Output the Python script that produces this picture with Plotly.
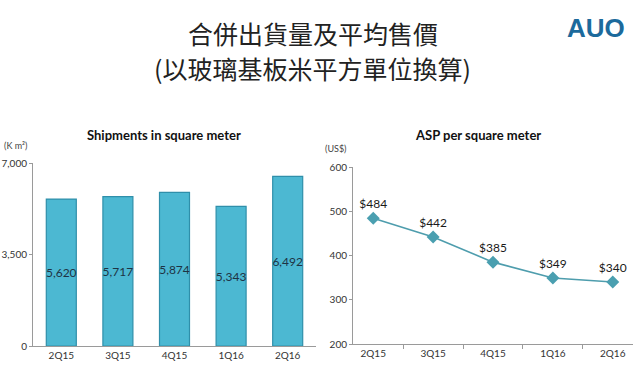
import plotly.graph_objects as go

categories = ["2Q15", "3Q15", "4Q15", "1Q16", "2Q16"]
shipments = [5620, 5717, 5874, 5343, 6492]
asp = [484, 442, 385, 349, 340]
ship_ticks = [0, 3500, 7000]
asp_ticks = [200, 300, 400, 500, 600]

FONT = "Lato, 'Open Sans', sans-serif"
H = 381.0

fig = go.Figure()

fig.add_trace(go.Bar(
    x=categories, y=shipments, xaxis="x", yaxis="y",
    marker=dict(color="#4CB8D2", line=dict(color="#2F8FAA", width=1.2)),
    text=[f"{v:,}" for v in shipments], textposition="inside",
    insidetextanchor="middle", textangle=0, constraintext="none",
    textfont=dict(family=FONT, size=12, color="#1E3344"),
    width=0.53, showlegend=False, hoverinfo="x+y",
))

fig.add_trace(go.Scatter(
    x=categories, y=asp, xaxis="x2", yaxis="y2",
    mode="lines+markers+text",
    line=dict(color="#4E9DAD", width=1.6),
    marker=dict(symbol="diamond", size=10, color="#4A9FB0"),
    text=[f"${v}" for v in asp], textposition="top center",
    textfont=dict(family=FONT, size=12, color="#1A1A1A"),
    showlegend=False, cliponaxis=False,
))

axis_common = dict(showline=True, linecolor="#9A9A9A", linewidth=1,
                   showgrid=False, zeroline=False,
                   tickfont=dict(family=FONT, size=10, color="#333333"))

fig.update_layout(
    width=640, height=381,
    margin=dict(l=0, r=0, t=0, b=0),
    paper_bgcolor="white", plot_bgcolor="white",
    xaxis=dict(domain=[33/640, 316/640], anchor="y", ticks="",
               automargin=False, **axis_common),
    yaxis=dict(domain=[(H-346)/H, (H-163)/H], anchor="x", range=[0, 7000],
               tickvals=ship_ticks, tickformat=",", ticks="outside",
               ticklen=3, tickcolor="#9A9A9A", automargin=False,
               **axis_common),
    xaxis2=dict(domain=[353/640, 633/640], anchor="y2", ticks="outside",
                tickson="boundaries", ticklen=4, tickcolor="#9A9A9A",
                automargin=False, **axis_common),
    yaxis2=dict(domain=[(H-344)/H, (H-167)/H], anchor="x2", range=[200, 600],
                tickvals=asp_ticks, ticks="outside", ticklen=3,
                tickcolor="#9A9A9A", automargin=False, **axis_common),
)

annotations = [
    dict(text="合併出貨量及平均售價", x=313, y=33, size=25, color="#222222",
         family="'Noto Sans CJK TC', sans-serif"),
    dict(text="(以玻璃基板米平方單位換算)", x=312, y=68, size=25, color="#222222",
         family="'Noto Sans CJK TC', sans-serif"),
    dict(text="<b>Shipments in square meter</b>", x=164, y=135, size=13,
         color="#111111", family=FONT),
    dict(text="<b>ASP per square meter</b>", x=478, y=135, size=13,
         color="#111111", family=FONT),
    dict(text="(K m²)", x=15, y=145, size=9, color="#444444", family=FONT),
    dict(text="(US$)", x=336, y=148, size=9, color="#444444", family=FONT),
    dict(text="<b>AUO</b>", x=596, y=28, size=26, color="#1C6A9C",
         family="'Liberation Sans', Arial, sans-serif"),
]
for a in annotations:
    fig.add_annotation(text=a["text"], x=a["x"]/640, y=1 - a["y"]/H,
                       xref="paper", yref="paper", showarrow=False,
                       xanchor="center", yanchor="middle",
                       font=dict(family=a["family"], size=a["size"],
                                 color=a["color"]))

fig.write_html("out.html", config={"displayModeBar": False},
               post_script="document.body.style.margin='0px';"
                           "document.body.style.overflow='hidden';")
